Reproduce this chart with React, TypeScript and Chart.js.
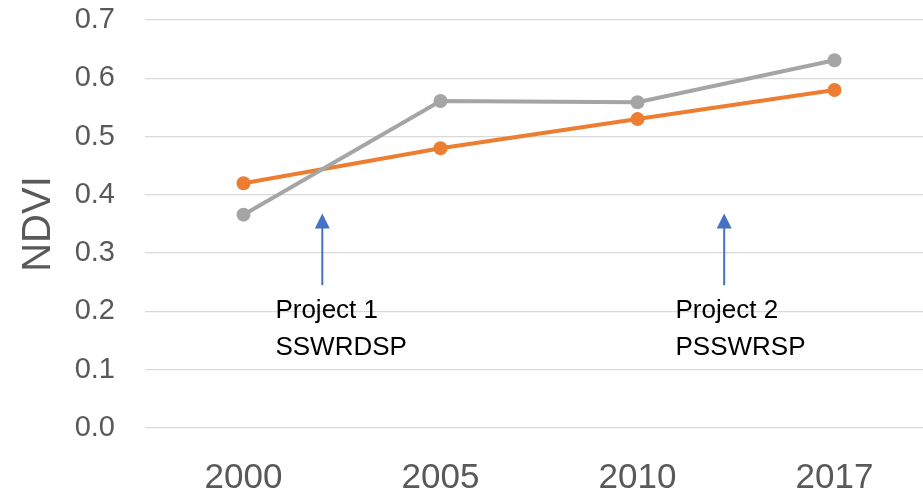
import React, { useEffect, useRef } from "react";
import { Chart, registerables } from "chart.js";

Chart.register(...registerables);

const years = ["2000", "2005", "2010", "2017"];
const orangeSeries = [0.42, 0.48, 0.53, 0.58];
const graySeries = [0.366, 0.561, 0.559, 0.631];
const yTickMin = 0;
const yTickMax = 0.7;
const yTickStep = 0.1;
const yTitle = "NDVI";

// annotations: arrow x (category index), arrow tip/base (value), text lines
const annotationArrowX = [0.4, 2.44];
const annotationArrowTip = [0.368, 0.368];
const annotationArrowBase = [0.245, 0.245];
const annotationTextX = [0.162, 2.193];
const annotationLine1 = ["Project 1", "Project 2"];
const annotationLine2 = ["SSWRDSP", "PSSWRSP"];
const annotationLine1Y = [0.189, 0.189];
const annotationLine2Y = [0.126, 0.126];

const arrowPlugin = {
  id: "arrowAnnotations",
  afterDatasetsDraw(chart: any) {
    const { ctx, scales } = chart;
    const xs = scales.x;
    const ys = scales.y;
    ctx.save();
    for (let i = 0; i < annotationArrowX.length; i++) {
      const ax = xs.getPixelForValue(annotationArrowX[i]);
      const tip = ys.getPixelForValue(annotationArrowTip[i]);
      const base = ys.getPixelForValue(annotationArrowBase[i]);
      ctx.strokeStyle = "#4472C4";
      ctx.fillStyle = "#4472C4";
      ctx.lineWidth = 2;
      ctx.beginPath();
      ctx.moveTo(ax, base);
      ctx.lineTo(ax, tip + 12);
      ctx.stroke();
      ctx.beginPath();
      ctx.moveTo(ax, tip);
      ctx.lineTo(ax - 7.5, tip + 15);
      ctx.lineTo(ax + 7.5, tip + 15);
      ctx.closePath();
      ctx.fill();

      const tx = xs.getPixelForValue(annotationTextX[i]);
      ctx.fillStyle = "#000000";
      ctx.font = "26px 'Liberation Sans', Arial, sans-serif";
      ctx.textAlign = "left";
      ctx.textBaseline = "alphabetic";
      ctx.fillText(annotationLine1[i], tx, ys.getPixelForValue(annotationLine1Y[i]));
      ctx.fillText(annotationLine2[i], tx, ys.getPixelForValue(annotationLine2Y[i]));
    }
    ctx.restore();
  },
};

export default function App() {
  const canvasRef = useRef<HTMLCanvasElement | null>(null);

  useEffect(() => {
    document.body.style.overflow = "hidden";
    const canvas = canvasRef.current;
    if (!canvas) return;
    const chart = new Chart(canvas, {
      type: "line",
      data: {
        labels: years,
        datasets: [
          {
            label: "Gray",
            data: graySeries,
            borderColor: "#A5A5A5",
            backgroundColor: "#A5A5A5",
            borderWidth: 4,
            pointRadius: 7,
            pointHoverRadius: 7,
            pointBorderWidth: 0,
            tension: 0,
          },
          {
            label: "Orange",
            data: orangeSeries,
            borderColor: "#ED7D31",
            backgroundColor: "#ED7D31",
            borderWidth: 4,
            pointRadius: 7,
            pointHoverRadius: 7,
            pointBorderWidth: 0,
            tension: 0,
          },
        ],
      },
      options: {
        animation: false,
        responsive: true,
        maintainAspectRatio: false,
        layout: { padding: { top: 20, right: 0, left: 0, bottom: 0 } },
        plugins: {
          legend: { display: false },
          tooltip: { enabled: false },
        },
        scales: {
          x: {
            offset: true,
            grid: { display: false, drawTicks: false },
            border: { display: false },
            ticks: {
              color: "#595959",
              font: { family: "'Liberation Sans', Arial, sans-serif", size: 35 },
              padding: 29,
              maxRotation: 0,
            },
            afterFit(scale: any) {
              scale.height = 64;
            },
          },
          y: {
            min: yTickMin,
            max: yTickMax,
            grid: { color: "#D9D9D9", lineWidth: 1.3, drawTicks: false },
            border: { display: false },
            ticks: {
              stepSize: yTickStep,
              color: "#595959",
              font: { family: "'Liberation Sans', Arial, sans-serif", size: 29 },
              padding: 30,
              callback: (v: any) => Number(v).toFixed(1),
            },
            title: {
              display: true,
              text: yTitle,
              color: "#595959",
              font: { family: "'Liberation Sans', Arial, sans-serif", size: 40 },
              padding: { top: 15, bottom: 0 },
            },
            afterFit(scale: any) {
              scale.width = 145;
              scale.paddingTop = 0;
              scale.paddingBottom = 0;
            },
          },
        },
      },
      plugins: [arrowPlugin],
    });
    return () => chart.destroy();
  }, []);

  return (
    <div style={{ position: "absolute", left: 0, top: 0, width: 940, height: 492 }}>
      <canvas ref={canvasRef} />
    </div>
  );
}
